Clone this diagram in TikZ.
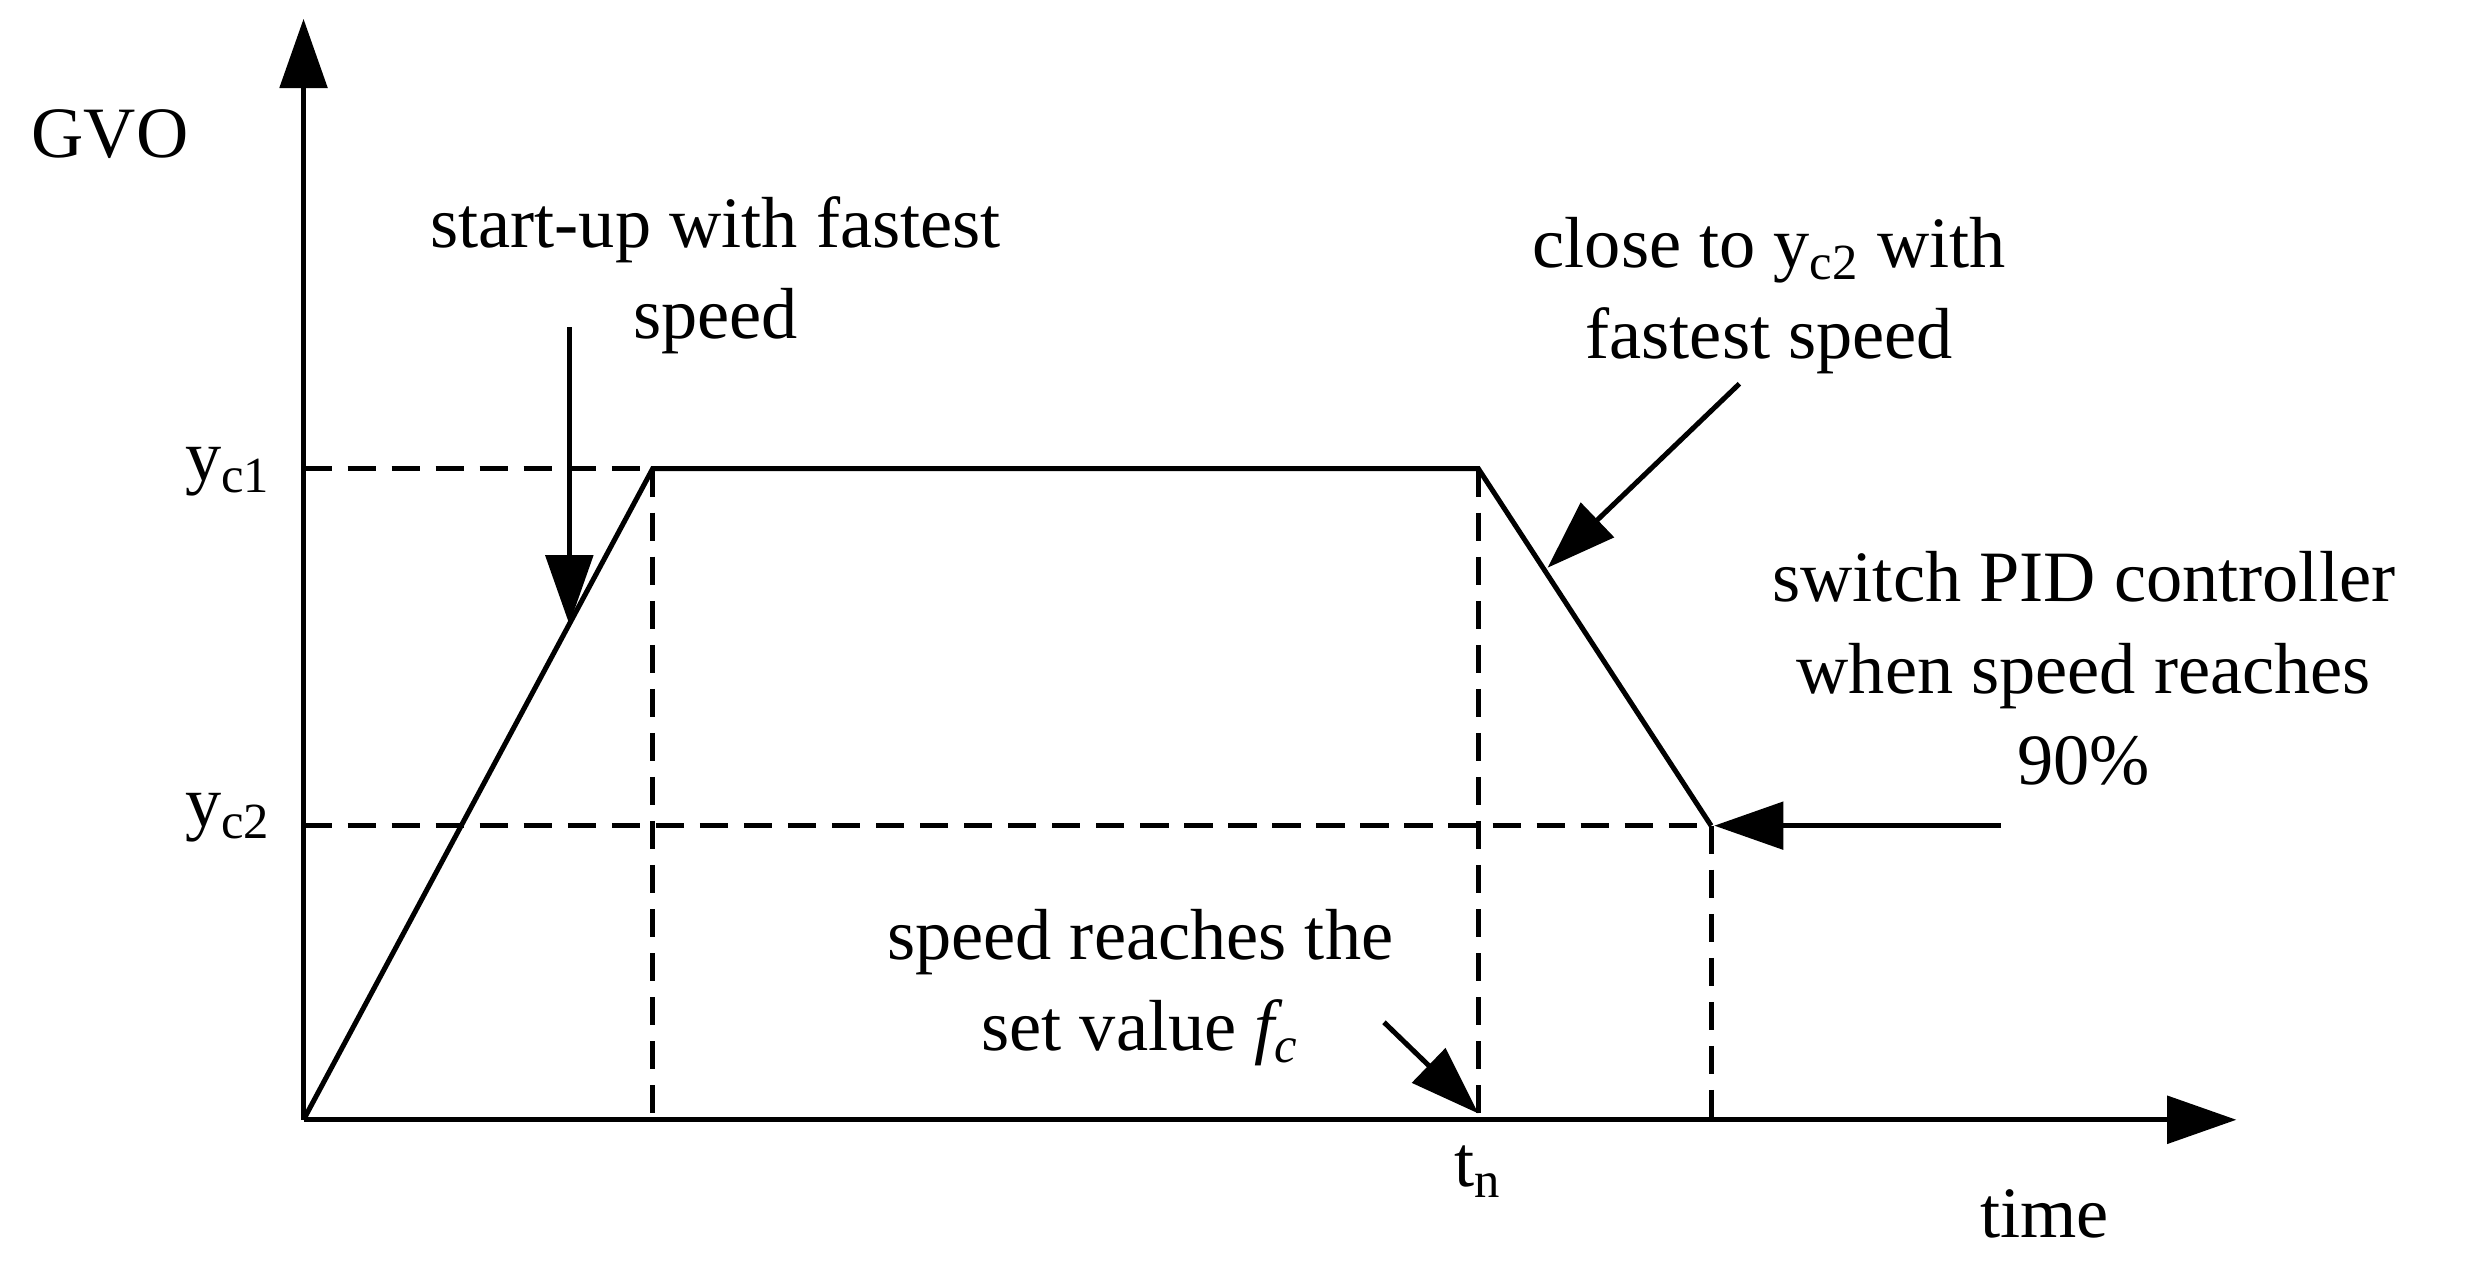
\documentclass[tikz,border=0pt]{standalone}
\usepackage{fontspec}
\setmainfont{Liberation Serif}
\usetikzlibrary{arrows.meta}
\begin{document}
\begin{tikzpicture}[x=0.5pt,y=-0.5pt,line width=1.6pt,
  big/.style={-{Triangle[length=22pt,width=15pt]}},
  dsh/.style={dash pattern=on 9pt off 5pt},
  lab/.style={font=\fontsize{23}{29}\selectfont,align=center,inner sep=0pt}]
\useasboundingbox (0,0) rectangle (1568,808);
\coordinate (O) at (193,712);
\coordinate (ytop) at (193,12);
\coordinate (xend) at (1422,712);
\coordinate (A) at (415,298);
\coordinate (B) at (940,298);
\coordinate (C) at (1088,525);
\coordinate (Y1) at (193,298);
\coordinate (Y2) at (193,525);
\coordinate (A0) at (415,712);
\coordinate (B0) at (940,712);
\coordinate (C0) at (1088,712);
\draw[big] (O) -- (ytop);
\draw[big] (O) -- (xend);
\draw (O) -- (A) -- (B) -- (C);
\draw[dsh] (Y1) -- (A);
\draw[dsh] (Y2) -- (C);
\draw[dsh] (A) -- (A0);
\draw[dsh] (B) -- (B0);
\draw[dsh] (C) -- (C0);
\node[lab] (gvo) at (70,85) {GVO};
\node[lab] (yc1) at (145,300) {y\textsubscript{c1}};
\node[lab] (yc2) at (145,520) {y\textsubscript{c2}};
\node[lab] (tn) at (940,745) {t\textsubscript{n}};
\node[lab] (time) at (1300,772) {time};
\node[lab] (t1) at (455,175) {start-up with fastest\\speed};
\node[lab] (t2) at (1125,188) {close to y\textsubscript{c2} with\\fastest speed};
\node[lab] (t3) at (1325,425) {switch PID controller\\when speed reaches\\90\%};
\node[lab] (t4) at (725,628) {speed reaches the\\set value \textit{f\textsubscript{c}}};
\coordinate (a1s) at (362,208);
\coordinate (a1e) at (362,397);
\coordinate (a2s) at (1106,244);
\coordinate (a2e) at (984,361);
\coordinate (a3s) at (1272,525);
\coordinate (a3e) at (1090,525);
\coordinate (a4s) at (880,650);
\coordinate (a4e) at (940,708);
\draw[big] (a1s) -- (a1e);
\draw[big] (a2s) -- (a2e);
\draw[big] (a3s) -- (a3e);
\draw[big] (a4s) -- (a4e);
\end{tikzpicture}
\end{document}
